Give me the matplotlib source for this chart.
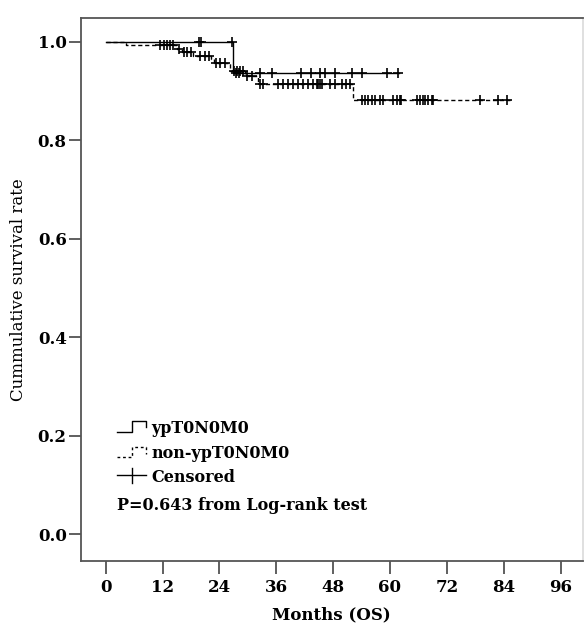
import numpy as np
import matplotlib.pyplot as plt

# KM step points (month, survival)
yp_t = [0, 26.9]
yp_s = [1.0, 0.9375]
yp_end = 61.9
yp_cens = [19.7, 20.1, 26.6, 27.4, 28.1, 32.5, 35.0, 41.3, 43.4, 45.2, 46.3,
           48.3, 51.9, 54.0, 59.3, 61.7]

non_t = [0, 4.2, 15.0, 16.0, 18.4, 22.2, 22.8, 26.2, 29.3, 32.1, 52.2]
non_s = [1.0, 0.993, 0.985, 0.979, 0.971, 0.965, 0.958, 0.941, 0.931, 0.914, 0.881]
non_end = 85.3
non_cens = [11.5, 12.2, 12.9, 13.6, 14.3, 15.4, 16.5, 17.2, 18.0, 19.8, 20.9, 21.9,
            23.2, 24.1, 25.1, 27.0, 27.7, 28.3, 28.9, 29.9, 30.8,
            32.6, 33.2, 36.3, 37.4, 38.4, 39.5, 40.5, 41.6, 42.6, 43.7, 44.5, 44.8,
            45.2, 45.6, 47.3, 48.3, 49.8, 50.8, 51.6,
            54.0, 54.7, 55.3, 56.1, 56.8, 57.8, 58.5, 60.6, 61.4, 62.1, 62.4, 65.6,
            66.3, 66.9, 67.3, 68.0, 68.8, 69.1, 79.1, 82.8, 84.6]

x_ticks = [0, 12, 24, 36, 48, 60, 72, 84, 96]
y_ticks = [0.0, 0.2, 0.4, 0.6, 0.8, 1.0]

serif = ['DejaVu Serif', 'Liberation Serif']
plt.rcParams['font.family'] = serif


def level_at(t, s, c):
    i = np.searchsorted(t, c, side='right') - 1
    return np.array(s)[i]


fig = plt.figure(figsize=(5.84, 6.30), dpi=100)
ax = fig.add_axes([0.138, 0.110, 0.860, 0.861])

# curves
for t, s, end, cens, ls in [(yp_t, yp_s, yp_end, yp_cens, '-'),
                            (non_t, non_s, non_end, non_cens, (0, (3, 2)))]:
    xs = list(t) + [end]
    ys = list(s) + [s[-1]]
    ax.step(xs, ys, where='post', color='black', lw=1.0, ls=ls)
    ax.plot(cens, level_at(t, s, cens), ls='none', marker='+', color='black',
            ms=7, mew=1.2)

ax.set_xlim(-5.3, 100.7)
ax.set_ylim(-0.054, 1.048)
ax.set_xticks(x_ticks)
ax.set_yticks(y_ticks)
ax.set_yticklabels(['%.1f' % v for v in y_ticks])
ax.tick_params(direction='out', length=9, width=1.2, color='#444444',
               labelsize=12)
ax.tick_params(axis='y', pad=1)
ax.tick_params(axis='x', pad=4)
for lab in ax.get_xticklabels() + ax.get_yticklabels():
    lab.set_fontweight('bold')
for sp in ax.spines.values():
    sp.set_color('#555555')
    sp.set_linewidth(1.3)
ax.spines['right'].set_color('#dddddd')

ax.set_xlabel('Months (OS)', fontsize=12, fontweight='bold', labelpad=8)
ax.set_ylabel('Cummulative survival rate', fontsize=12, labelpad=8)

# hand-made legend, SPSS style
def fx(px):
    return (px - 80.7) / 503.3


def fy(py):
    return (560.7 - py) / 542.7


tr = ax.transAxes
ax.plot([fx(117), fx(132), fx(132), fx(146.7), fx(146.7)],
        [fy(431.7), fy(431.7), fy(421), fy(421), fy(427)],
        color='black', lw=1.0, transform=tr, clip_on=False)
ax.plot([fx(117), fx(132), fx(132), fx(146.7), fx(146.7)],
        [fy(456.5), fy(456.5), fy(446.7), fy(446.7), fy(454)],
        color='black', lw=1.0, ls=(0, (2, 2)), transform=tr, clip_on=False)
ax.plot([fx(117), fx(146.7)], [fy(475), fy(475)], color='black', lw=1.0,
        transform=tr)
ax.plot([fx(132), fx(132)], [fy(468), fy(483)], color='black', lw=1.0,
        transform=tr)

ax.text(fx(151.7), fy(428), 'ypT0N0M0', transform=tr, fontsize=11.5,
        fontweight='bold', va='center', ha='left')
ax.text(fx(151.7), fy(453), 'non-ypT0N0M0', transform=tr, fontsize=11.5,
        fontweight='bold', va='center', ha='left')
ax.text(fx(151.7), fy(477), 'Censored', transform=tr, fontsize=11.5,
        fontweight='bold', va='center', ha='left')
ax.text(fx(117), fy(505), 'P=0.643 from Log-rank test', transform=tr,
        fontsize=11.5, fontweight='bold', va='center', ha='left')

fig.savefig('out.png', dpi=100)
